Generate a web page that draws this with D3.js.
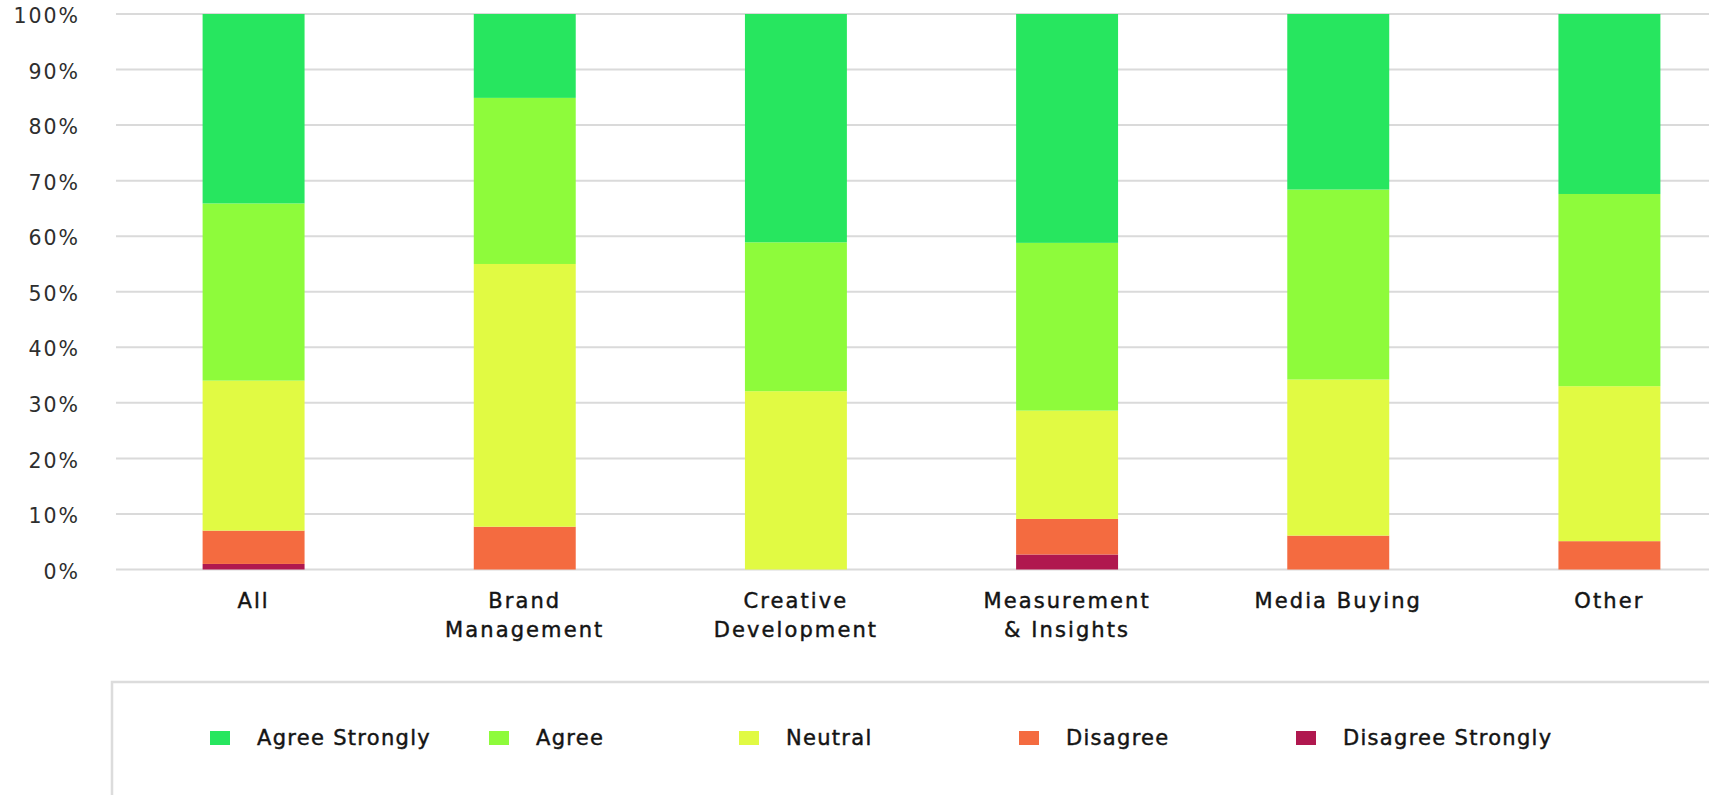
<!DOCTYPE html>
<html>
<head>
<meta charset="utf-8">
<script src="https://cdn.jsdelivr.net/npm/d3@7"></script>
<style>
  html, body { margin: 0; padding: 0; background: #ffffff; overflow: hidden; }
  svg { display: block; }
  text { font-family: "DejaVu Sans", sans-serif; }
</style>
</head>
<body>
<svg id="chart" width="1709" height="795"></svg>
<script>
// Survey responses by role (percent of respondents)
const categories = ["All", "Brand Management", "Creative Development", "Measurement & Insights", "Media Buying", "Other"];
const categoryLines = [["All"], ["Brand", "Management"], ["Creative", "Development"], ["Measurement", "& Insights"], ["Media Buying"], ["Other"]];

const seriesNames = ["Disagree Strongly", "Disagree", "Neutral", "Agree", "Agree Strongly"];
const disagreeStrongly = [1.0, 0, 0, 2.7, 0, 0];
const disagree         = [6.0, 7.7, 0, 6.4, 6.1, 5.1];
const neutral          = [27.0, 47.3, 32.1, 19.5, 28.1, 27.9];
const agree            = [31.9, 29.9, 26.8, 30.2, 34.2, 34.6];
const agreeStrongly    = [34.1, 15.1, 41.1, 41.2, 31.6, 32.4];

const yTicks = [0, 10, 20, 30, 40, 50, 60, 70, 80, 90, 100];
const legendOrder = ["Agree Strongly", "Agree", "Neutral", "Disagree", "Disagree Strongly"];

// Styling / layout
const colors = {
  "Agree Strongly": "#27e65f",
  "Agree": "#8efb3b",
  "Neutral": "#e1fa43",
  "Disagree": "#f46b40",
  "Disagree Strongly": "#b0184f"
};
const legendX = [210, 489, 739, 1019, 1296];

const svg = d3.select("#chart");

const rows = categories.map((c, i) => ({
  category: c,
  "Disagree Strongly": disagreeStrongly[i],
  "Disagree": disagree[i],
  "Neutral": neutral[i],
  "Agree": agree[i],
  "Agree Strongly": agreeStrongly[i]
}));

const stacked = d3.stack().keys(seriesNames)(rows);

const x = d3.scaleBand()
  .domain(categories)
  .range([118, 1745])
  .paddingInner(0.624)
  .paddingOuter(0.312);

const y = d3.scaleLinear().domain([0, 100]).range([569.5, 14]);

// gridlines
svg.append("g")
  .selectAll("line")
  .data(yTicks)
  .join("line")
  .attr("x1", 116)
  .attr("x2", 1709)
  .attr("y1", d => y(d))
  .attr("y2", d => y(d))
  .attr("stroke", "#dadada")
  .attr("stroke-width", 2);

// y axis labels
const yAxis = svg.append("g")
  .attr("transform", "translate(116,0)")
  .call(d3.axisLeft(y).tickValues(yTicks).tickFormat(d => d + "%").tickSize(0).tickPadding(36));
yAxis.select(".domain").remove();
yAxis.selectAll("text")
  .attr("fill", "#2e2e2e")
  .attr("font-size", "20.5px")
  .attr("letter-spacing", "2px")
  .attr("dy", "0.42em")
  .style("font-family", "'DejaVu Sans', sans-serif");

// stacked bars
svg.append("g")
  .selectAll("g")
  .data(stacked)
  .join("g")
  .attr("fill", d => colors[d.key])
  .selectAll("rect")
  .data(d => d)
  .join("rect")
  .attr("x", d => x(d.data.category))
  .attr("width", x.bandwidth())
  .attr("y", d => y(d[1]))
  .attr("height", d => y(d[0]) - y(d[1]));

// x axis labels
const xAxis = svg.append("g")
  .attr("transform", `translate(0,${y(0)})`)
  .call(d3.axisBottom(x).tickSize(0).tickFormat(""));
xAxis.select(".domain").remove();
xAxis.selectAll(".tick").each(function(d, i) {
  const t = d3.select(this).append("text")
    .attr("text-anchor", "middle")
    .attr("fill", "#141414")
    .attr("stroke", "#141414")
    .attr("stroke-width", 0.45)
    .attr("font-size", "21px")
    .attr("letter-spacing", "2.1px")
    .attr("y", 38.5);
  categoryLines[i].forEach((line, j) => {
    t.append("tspan").attr("x", 0).attr("dy", j === 0 ? 0 : 29).text(line);
  });
});

// legend
svg.append("rect")
  .attr("x", 112)
  .attr("y", 682)
  .attr("width", 1700)
  .attr("height", 200)
  .attr("fill", "#ffffff")
  .attr("stroke", "#dcdcdc")
  .attr("stroke-width", 2.5);

const legend = svg.append("g")
  .selectAll("g")
  .data(legendOrder)
  .join("g")
  .attr("transform", (d, i) => `translate(${legendX[i]},731)`);
legend.append("rect")
  .attr("width", 20)
  .attr("height", 14)
  .attr("fill", d => colors[d]);
legend.append("text")
  .attr("x", 47)
  .attr("y", 14)
  .attr("fill", "#141414")
  .attr("stroke", "#141414")
  .attr("stroke-width", 0.45)
  .attr("font-size", "21px")
  .attr("letter-spacing", "1.3px")
  .text(d => d);
</script>
</body>
</html>
